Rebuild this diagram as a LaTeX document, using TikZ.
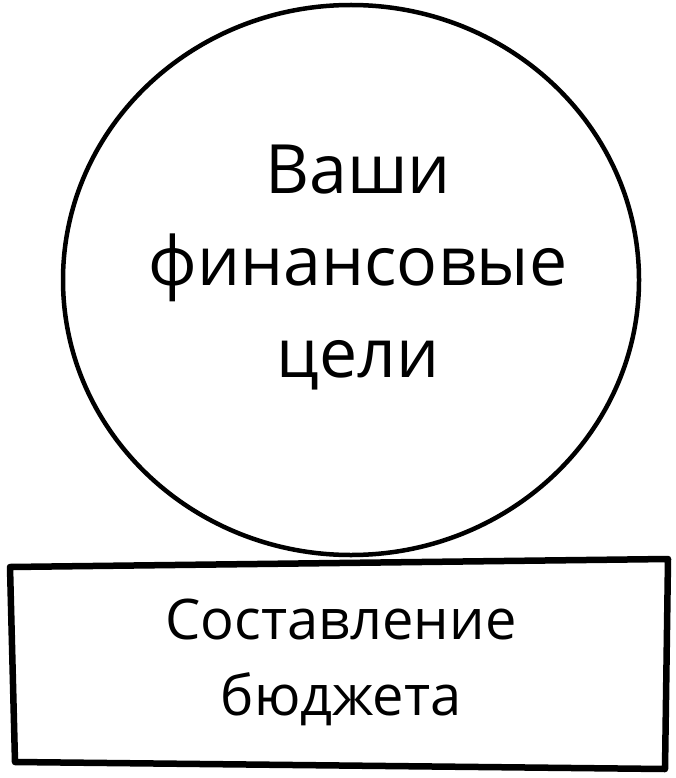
\documentclass[tikz,border=0pt]{standalone}
\usepackage{fontspec}
\setmainfont{Open Sans}
\usetikzlibrary{shapes.geometric}
\begin{document}
\begin{tikzpicture}[x=1pt,y=-1pt,
  sketch/.style={draw=black,line join=round,line cap=round},
  bigtext/.style={font=\fontsize{68}{92}\selectfont,align=center,inner sep=0pt},
  boxtext/.style={font=\fontsize{56}{76}\selectfont,align=center,inner sep=0pt}]
\useasboundingbox (0,0) rectangle (676,778);
\fill[white] (0,0) rectangle (676,778);
% circle
\node[sketch,line width=4.5pt,ellipse,minimum width=576pt,minimum height=550pt,inner sep=0pt] (goal) at (351,280) {};
\node[bigtext] (goaltext) at (358,268) {Ваши\\финансовые\\цели};
% rectangle
\coordinate (tl) at (10,567);
\coordinate (tr) at (668,559);
\coordinate (br) at (665,769);
\coordinate (bl) at (15,762);
\draw[sketch,line width=6.5pt] (tl) -- (tr) -- (br) -- (bl) -- cycle;
\node[boxtext] (budget) at (341,662) {Составление\\бюджета};
\end{tikzpicture}
\end{document}
